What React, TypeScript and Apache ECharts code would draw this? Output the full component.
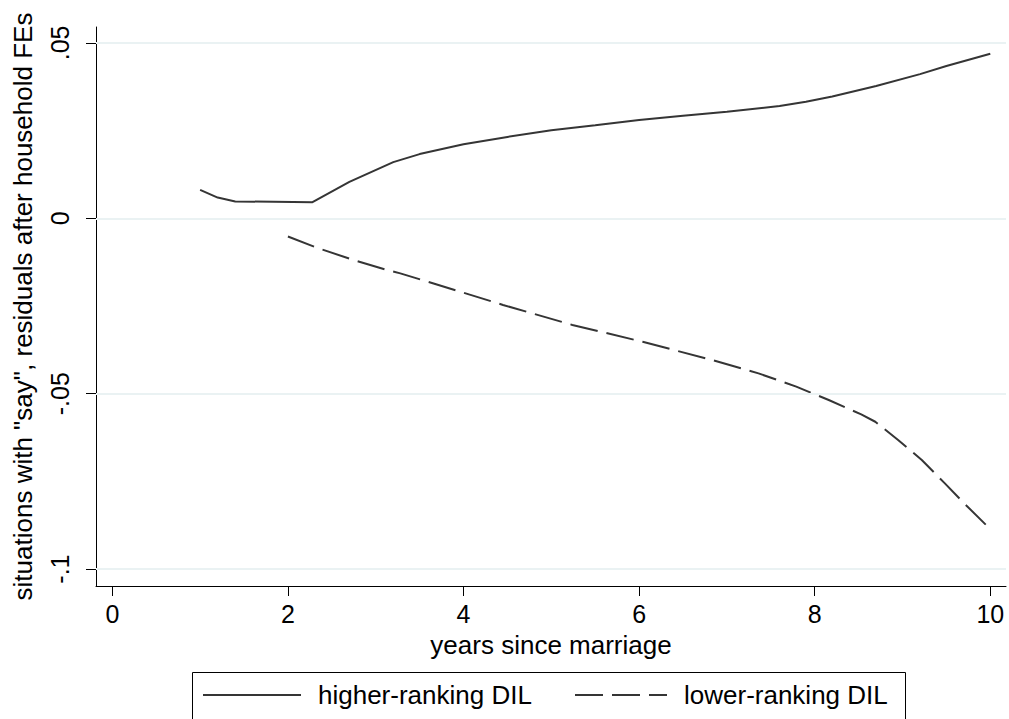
import React, { useEffect, useRef } from "react";
import * as echarts from "echarts";

const hiX = [1, 1.2, 1.4, 2.28, 2.7, 3.2, 3.5, 4, 4.5, 5, 5.5, 6, 6.5, 7, 7.6, 7.9, 8.2, 8.7, 9.2, 9.5, 10];
const hiY = [0.0081, 0.0059, 0.0048, 0.0046, 0.0104, 0.016, 0.0183, 0.0211, 0.0232, 0.0251, 0.0265, 0.028, 0.0292, 0.0304, 0.032, 0.0332, 0.0347, 0.0377, 0.0411, 0.0434, 0.0469];

const loX = [2, 2.33, 2.75, 3.12, 3.28, 3.65, 4.45, 5.24, 6.04, 6.83, 7.36, 7.79, 8.16, 8.53, 8.69, 8.95, 9.22, 9.48, 9.7, 10];
const loY = [-0.0052, -0.0084, -0.0119, -0.0147, -0.0157, -0.0185, -0.0247, -0.0304, -0.0352, -0.0404, -0.0442, -0.048, -0.0518, -0.0559, -0.058, -0.0632, -0.0689, -0.0755, -0.0812, -0.0886];

const xTicks = [0, 2, 4, 6, 8, 10];
const xTickLabels = ["0", "2", "4", "6", "8", "10"];
const yTicks = [-0.1, -0.05, 0, 0.05];
const yTickLabels = ["-.1", "-.05", "0", ".05"];

const seriesNames = ["higher-ranking DIL", "lower-ranking DIL"];
const xTitle = "years since marriage";
const yTitle = 'situations with "say", residuals after household FEs';

const FONT = "'Liberation Sans', Arial, Helvetica, sans-serif";
const LINE = "#353535";

function fmt(ticks: number[], labels: string[]) {
  return (v: number) => {
    const i = ticks.findIndex((t) => Math.abs(t - v) < 1e-9);
    return i >= 0 ? labels[i] : "";
  };
}

export default function App() {
  const ref = useRef<HTMLDivElement>(null);
  useEffect(() => {
    if (!ref.current) return;
    const chart = echarts.init(ref.current, null, { renderer: "svg" });
    const legendText = { fontSize: 26, color: "#000", fontFamily: FONT, padding: [0, 0, 0, 12] };
    const hiddenSymbol = { color: "rgba(0,0,0,0)", borderColor: "rgba(0,0,0,0)", borderWidth: 0, opacity: 0 };
    chart.setOption({
      animation: false,
      backgroundColor: "#fff",
      textStyle: { fontFamily: FONT },
      grid: { left: 96, right: 3, top: 27, bottom: 133, containLabel: false },
      xAxis: {
        type: "value",
        min: -0.186,
        max: 10.179,
        name: xTitle,
        nameLocation: "middle",
        nameGap: 46,
        nameTextStyle: { fontSize: 26, color: "#000", fontFamily: FONT },
        axisLine: { show: true, onZero: false, lineStyle: { color: "#000", width: 1 } },
        axisTick: { show: true, length: 10, customValues: xTicks, lineStyle: { color: "#000", width: 1 } },
        axisLabel: { customValues: xTicks, formatter: fmt(xTicks, xTickLabels), fontSize: 25, color: "#000", margin: 15, fontFamily: FONT },
        splitLine: { show: false },
      },
      yAxis: {
        type: "value",
        min: -0.10482,
        max: 0.05453,
        name: yTitle,
        nameLocation: "middle",
        nameRotate: 90,
        nameGap: 60,
        nameTextStyle: { fontSize: 26, color: "#000", fontFamily: FONT },
        axisLine: { show: true, onZero: false, lineStyle: { color: "#000", width: 1 } },
        axisTick: { show: true, length: 10, customValues: yTicks, lineStyle: { color: "#000", width: 1 } },
        axisLabel: { customValues: yTicks, formatter: fmt(yTicks, yTickLabels), rotate: 90, fontSize: 25, color: "#000", margin: 24, fontFamily: FONT },
        splitLine: { show: false },
      },
      legend: [
        {
          data: [seriesNames[0]],
          left: 202,
          top: 682,
          padding: 0,
          itemWidth: 98,
          itemHeight: 14,
          selectedMode: false,
          itemStyle: hiddenSymbol,
          textStyle: legendText,
        },
        {
          data: [seriesNames[1]],
          left: 574,
          top: 682,
          padding: 0,
          itemWidth: 92,
          itemHeight: 14,
          selectedMode: false,
          itemStyle: hiddenSymbol,
          textStyle: legendText,
        },
      ],
      graphic: [
        {
          type: "rect",
          shape: { x: 192.5, y: 672.5, width: 713, height: 80 },
          style: { fill: "none", stroke: "#000", lineWidth: 1 },
          silent: true,
        },
      ],
      series: [
        {
          name: "_grid",
          type: "line",
          data: [],
          silent: true,
          z: 1,
          markLine: {
            silent: true,
            symbol: ["none", "none"],
            label: { show: false },
            lineStyle: { color: "#eaf2f3", width: 2, type: "solid" },
            data: yTicks.map((v) => ({ yAxis: v })),
          },
        },
        {
          name: seriesNames[0],
          type: "line",
          data: hiX.map((x, i) => [x, hiY[i]]),
          symbol: "none",
          z: 3,
          itemStyle: { color: LINE },
          lineStyle: { color: LINE, width: 2, type: "solid" },
        },
        {
          name: seriesNames[1],
          type: "line",
          data: loX.map((x, i) => [x, loY[i]]),
          symbol: "none",
          z: 3,
          itemStyle: { color: LINE },
          lineStyle: { color: LINE, width: 2, type: [28, 9] },
        },
      ],
    });
    return () => chart.dispose();
  }, []);
  return <div ref={ref} style={{ position: "absolute", left: 0, top: 0, width: 1009, height: 719 }} />;
}
